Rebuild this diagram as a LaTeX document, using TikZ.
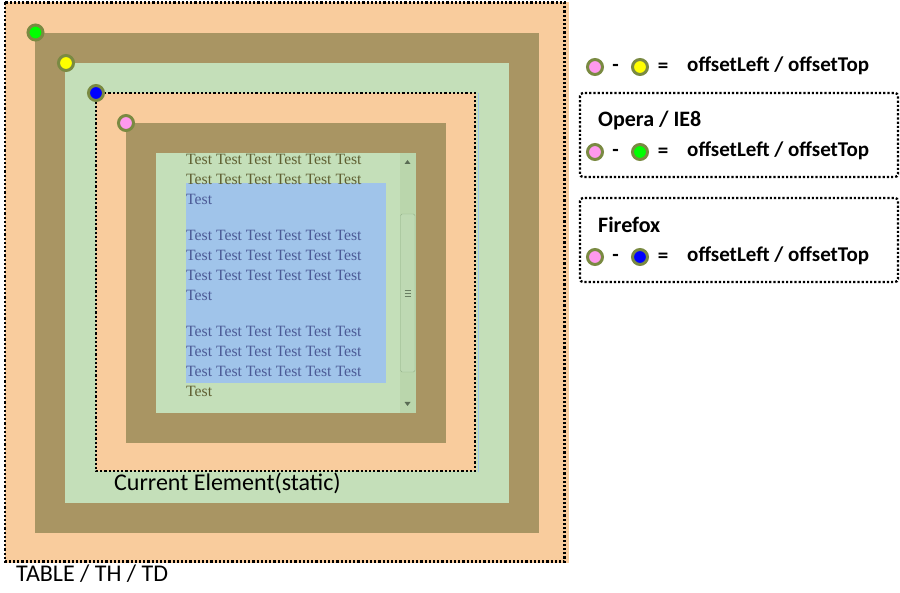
\documentclass[tikz,border=0pt]{standalone}
\usepackage{fontspec}
\setmainfont{Carlito}
\newfontfamily\areafont{Liberation Serif}
\usetikzlibrary{positioning}
\definecolor{peach}{RGB}{249,204,157}
\definecolor{khaki}{RGB}{169,149,99}
\definecolor{mint}{RGB}{196,223,185}
\definecolor{selblue}{RGB}{160,196,234}
\definecolor{scrollgreen}{RGB}{186,214,172}
\definecolor{thumbline}{RGB}{150,180,140}
\definecolor{ring}{RGB}{122,138,66}
\definecolor{txtolive}{RGB}{95,95,50}
\definecolor{txtblue}{RGB}{75,90,150}
\definecolor{dotgreen}{RGB}{0,255,0}
\definecolor{dotyellow}{RGB}{255,255,0}
\definecolor{dotblue}{RGB}{0,0,255}
\definecolor{dotpink}{RGB}{255,153,238}
\tikzset{
    dotborder/.style={draw=black, line width=2.3pt, dash pattern=on 2.2pt off 2pt},
    marker/.style={circle, draw=ring, line width=3pt, minimum size=15pt, inner sep=0pt},
    legend/.style={font=\bfseries\fontsize{21}{24}\selectfont, inner sep=0pt, anchor=base west},
    sign/.style={font=\bfseries\fontsize{21}{24}\selectfont, inner sep=0pt, anchor=base},
    heading/.style={font=\bfseries\fontsize{22}{26}\selectfont, inner sep=0pt, anchor=base west},
    caption/.style={font=\fontsize{24}{28}\selectfont, inner sep=0pt, anchor=base west},
    arealine/.style={font=\areafont\fontsize{15.7}{18}\selectfont, inner sep=0pt, anchor=west}
}

\begin{document}
\begin{tikzpicture}[x=1pt, y=-1pt]
    \useasboundingbox (0,0) rectangle (900,593);
    % nested boxes
    \fill[peach] (5,2) rectangle (569,563);
    \draw[dotborder] (5,2.5) rectangle (564.5,561.5);
    \fill[khaki] (35,33) rectangle (539,533);
    \fill[mint] (65,63) rectangle (509,503);
    \draw[selblue, line width=1pt] (478,93) -- (478,472);
    \fill[peach] (96,93) rectangle (476,471);
    \draw[dotborder] (96,93) rectangle (475,471);
    \fill[khaki] (126,123) rectangle (446,443);
    % text area
    \fill[mint] (156,153) rectangle (416,413);
    \fill[selblue] (186,183) rectangle (386,383);
    \fill[scrollgreen] (400,153) rectangle (416,413);
    \draw[thumbline, fill=scrollgreen!90!black!20!mint, rounded corners=1.5pt] (400.5,214) rectangle (415,372);
    \foreach \gy in {290,293,296}
        \draw[thumbline!70!black] (404.5,\gy) -- (410.5,\gy);
    \fill[thumbline!60!black] (404.5,164) -- (410.5,164) -- (407.5,160) -- cycle;
    \fill[thumbline!60!black] (404.5,402) -- (410.5,402) -- (407.5,406) -- cycle;
    \foreach \ly/\txt/\col in {159/{Test Test Test Test Test Test}/txtolive,
                               179/{Test Test Test Test Test Test}/txtolive,
                               199/{Test}/txtblue,
                               235/{Test Test Test Test Test Test}/txtblue,
                               255/{Test Test Test Test Test Test}/txtblue,
                               275/{Test Test Test Test Test Test}/txtblue,
                               295/{Test}/txtblue,
                               331/{Test Test Test Test Test Test}/txtblue,
                               351/{Test Test Test Test Test Test}/txtblue,
                               371/{Test Test Test Test Test Test}/txtblue,
                               391/{Test}/txtolive}
        \node[arealine, text=\col] at (186,\ly) {\txt};
    % corner markers
    \node[marker, fill=dotgreen] (mgreen) at (35.5,32.5) {};
    \node[marker, fill=dotyellow] (myellow) at (66,63) {};
    \node[marker, fill=dotblue] (mblue) at (96,93) {};
    \node[marker, fill=dotpink] (mpink) at (126,123) {};
    % captions
    \node[caption] (current) at (114,490) {Current Element(static)};
    \node[caption] (table) at (16,581.5) {TABLE / TH / TD};
    % legend
    \node[marker, fill=dotpink] (lpink1) at (595,67) {};
    \node[sign] (dash1) at (615.5,72) {-};
    \node[marker, fill=dotyellow] (lyellow) at (640,67) {};
    \node[sign] (eq1) at (663,73) {=};
    \node[legend] (off1) at (687,71.3) {offsetLeft / offsetTop};
    \draw[dotborder, rounded corners=3pt] (580,93) rectangle (898,177);
    \node[heading] (opera) at (598,126.7) {Opera / IE8};
    \node[marker, fill=dotpink] (lpink2) at (595,152) {};
    \node[sign] (dash2) at (615.5,157) {-};
    \node[marker, fill=dotgreen] (lgreen) at (640,152) {};
    \node[sign] (eq2) at (663,158) {=};
    \node[legend] (off2) at (687,156.5) {offsetLeft / offsetTop};
    \draw[dotborder, rounded corners=3pt] (580,198) rectangle (898,282);
    \node[heading] (firefox) at (598,232.7) {Firefox};
    \node[marker, fill=dotpink] (lpink3) at (595,257) {};
    \node[sign] (dash3) at (615.5,262) {-};
    \node[marker, fill=dotblue] (lblue) at (640,257) {};
    \node[sign] (eq3) at (663,263) {=};
    \node[legend] (off3) at (687,262) {offsetLeft / offsetTop};
\end{tikzpicture}
\end{document}
